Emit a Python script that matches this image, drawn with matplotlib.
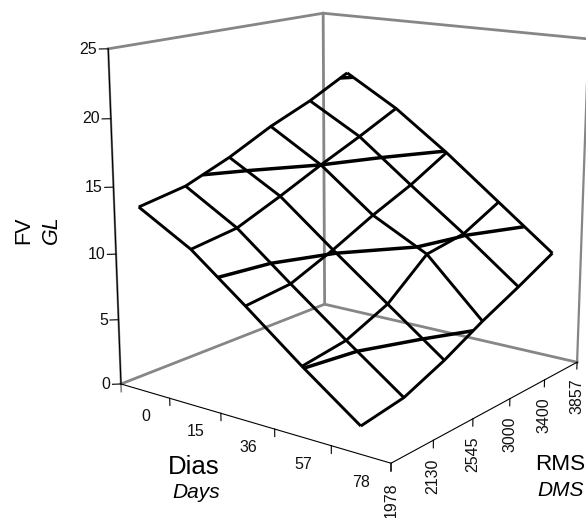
import numpy as np
import matplotlib
matplotlib.use('Agg')
import matplotlib.pyplot as plt
from mpl_toolkits.mplot3d import proj3d

plt.rcParams['font.family'] = ['Liberation Sans', 'DejaVu Sans']

# ---- data ----
days_labels = ['0', '15', '36', '57', '78']
rms_labels = ['1978', '2130', '2545', '3000', '3400', '3857']
z_ticks = [0, 5, 10, 15, 20, 25]
contour_levels = [5, 10, 15, 20]
fv_days_0 = [13.9, 14.5, 15.8, 17.4, 18.7, 20.3]
fv_days_15 = [11.6, 12.1, 13.5, 15.0, 16.4, 17.9]
fv_days_36 = [8.4, 8.8, 10.2, 11.8, 13.2, 14.9]
fv_days_57 = [5.1, 5.6, 7.0, 9.6, 10.1, 11.6]
fv_days_78 = [2.0, 2.5, 3.8, 5.4, 6.8, 8.3]

Z = np.array([fv_days_0, fv_days_15, fv_days_36, fv_days_57, fv_days_78])
n_days, n_rms = Z.shape
day_pos = np.arange(n_days) + 0.5      # categories sit in the middle of their bands
rms_pos = np.arange(n_rms)
day_ticks = np.arange(1, n_days + 1)   # ticks sit on the band edges
X, Y = np.meshgrid(day_pos, rms_pos, indexing='ij')
xmax, ymax, zmax = n_days, n_rms - 1, z_ticks[-1]

W, H = 586, 518
fig = plt.figure(figsize=(W / 100, H / 100), dpi=100, facecolor='white')
ax = fig.add_axes([0, 0, 1, 1], projection='3d', computed_zorder=False)
ax.patch.set_alpha(0)
ax.set_axis_off()

GREY = '#868686'
box = dict(color=GREY, lw=2.0, zorder=1, clip_on=False)
# back planes
ax.plot([0, 0, xmax], [0, ymax, ymax], [0, 0, 0], **box)
ax.plot([0, 0, xmax], [0, ymax, ymax], [zmax, zmax, zmax], **box)
ax.plot([0, 0], [ymax, ymax], [0, zmax], **box)
ax.plot([xmax, xmax], [ymax, ymax], [0, zmax], color=GREY, lw=1.6, zorder=1, clip_on=False)
ax.plot([0, 0], [0, 0], [0, zmax], color=GREY, lw=1.6, zorder=1, clip_on=False)
ax.plot([0, 0], [0, 0], [-0.6, 0], color=GREY, lw=1.2, zorder=1, clip_on=False)

# axes
axis = dict(color='black', lw=0.8, zorder=2, clip_on=False)
ax.plot([0, 0], [0, 0], [0, zmax], **axis)
ax.plot([0, xmax, xmax], [0, 0, ymax], [0, 0, 0], **axis)
for d in day_ticks:
    ax.plot([d, d], [0, 0], [-0.55, 0], **axis)
for r in rms_pos:
    ax.plot([xmax, xmax], [r, r], [-0.55, 0], **axis)
for z in z_ticks:
    ax.plot([-0.092, 0], [-0.086, 0], [z, z], **axis)

# surface
ax.plot_wireframe(X, Y, Z, rstride=1, cstride=1, color='black', linewidth=2.1, zorder=3)
ax.contour(X, Y, Z, levels=contour_levels, colors='black', linewidths=2.5, zorder=4)

# view fitted to the reference
ax.view_init(elev=14.281, azim=-52.986, roll=0.029)
ax.set_proj_type('persp', focal_length=0.531)
ax.set_box_aspect((1, 0.995, 1.014))
ax.set_xlim(0, xmax)
ax.set_ylim(0, ymax)
ax.set_zlim(0, zmax)
# the built-in axes are hidden; their unused tick texts are dropped too
ax.set_xticks([])
ax.set_yticks([])
ax.set_zticks([])

scale, tx, ty = 3051.18, 353.23, 212.59
vx0, vx1 = ax.viewLim.intervalx
vy0, vy1 = ax.viewLim.intervaly
ax.set_position([(tx + scale * vx0) / W, (H - ty + scale * vy0) / H,
                 scale * (vx1 - vx0) / W, scale * (vy1 - vy0) / H])

# tick labels are upright on screen, so they are anchored through the projection
M = ax.get_proj()


def tick_label(x, y, z, s, **kw):
    x2, y2, _ = proj3d.proj_transform(x, y, z, M)
    ax.text2D(x2, y2, s, transform=ax.transData, fontsize=11.5, color='#111111',
              clip_on=False, **kw)


for d, lab in zip(day_pos, days_labels):
    tick_label(d, 0, -2.0, lab, ha='center', va='center')
for r, lab in zip(rms_pos, rms_labels):
    tick_label(xmax, r, -1.35, lab, ha='center', va='top', rotation=90)
for z in z_ticks:
    tick_label(-0.115, -0.108, z, str(z), ha='right', va='center')


def px(x, y, s, **kw):
    fig.text(x / W, 1 - y / H, s, ha='center', va='center', **kw)


px(194, 467, 'Dias', fontsize=18.5)
px(196, 493, 'Days', fontsize=15, style='italic')
px(560, 464, 'RMS', fontsize=16.2)
px(561, 491, 'DMS', fontsize=15, style='italic')
px(24, 230, 'FV', fontsize=15.5, rotation=90)
px(51, 230, 'GL', fontsize=15.5, rotation=90, style='italic')

fig.savefig('out.png', dpi=100, facecolor='white')
